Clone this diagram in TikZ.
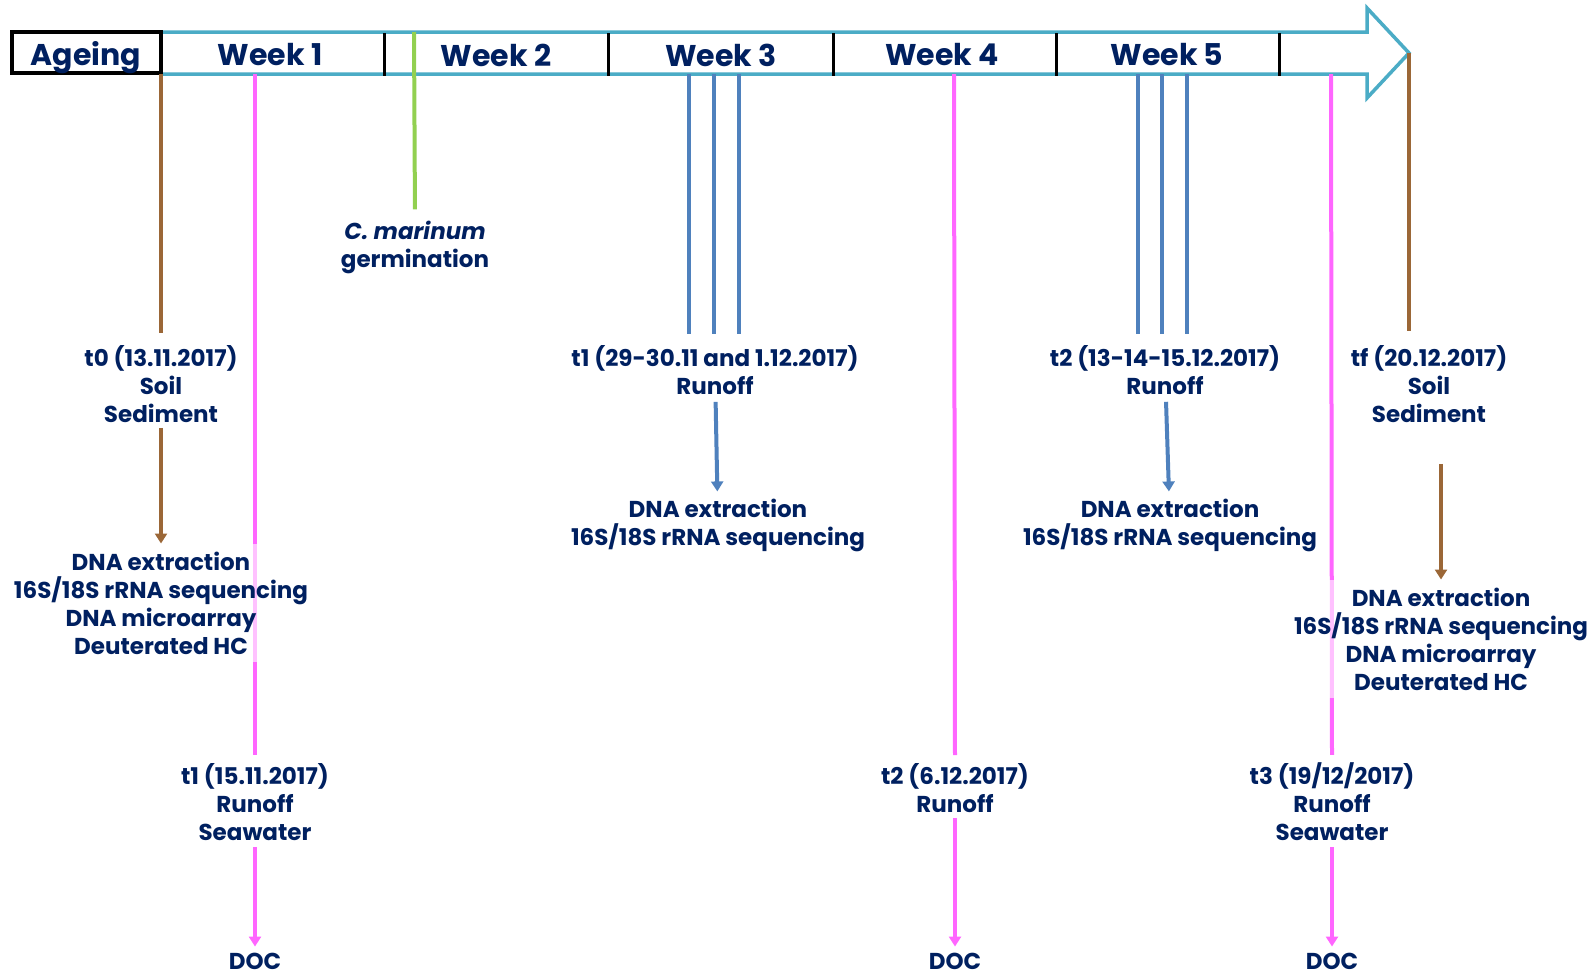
\documentclass[tikz,border=0pt]{standalone}
\usepackage{fontspec}
\setmainfont{Poppins}
\usetikzlibrary{arrows.meta}

\definecolor{navy}{RGB}{0,32,96}
\definecolor{barblue}{RGB}{75,172,198}
\definecolor{runblue}{RGB}{79,129,189}
\definecolor{soilbrown}{RGB}{155,103,55}
\definecolor{docpink}{RGB}{255,102,255}
\definecolor{germgreen}{RGB}{146,208,80}

\begin{document}
\begin{tikzpicture}[%
    x=1pt,
    y=-1pt,
    txt/.style={
      text=navy,
      font=\fontsize{23}{28}\selectfont\bfseries,
      align=center,
      inner sep=0pt
    },
    wk/.style={
      text=navy,
      font=\fontsize{30}{30}\selectfont\bfseries,
      inner sep=0pt
    },
    veil/.style={
      txt,
      fill=white,
      fill opacity=0.6,
      text opacity=1,
      inner ysep=8pt
    },
    divider/.style={
      draw=black,
      line width=3pt
    },
    brownln/.style={draw=soilbrown, line width=4pt},
    pinkln/.style={draw=docpink, line width=4pt},
    blueln/.style={draw=runblue, line width=4pt},
    greenln/.style={draw=germgreen, line width=4pt},
    arr/.style={
      -{Triangle[width=12pt,length=10pt]}
    }
  ]
    \useasboundingbox (0,0) rectangle (1594,975);

    % time bar
    \draw[barblue, line width=3.5pt, fill=white, line join=miter]
      (161,32) -- (1367,32) -- (1367,8) -- (1409,53) -- (1367,98)
      -- (1367,74) -- (161,74);
    \draw (86.5,52.5) node[draw=black, line width=3.5pt, minimum width=149pt,
      minimum height=41pt] (agebox) {};
    \draw (86,58) node[wk] (ageing) {Ageing};
    \foreach \x in {384,608,833,1056,1279}
      \draw[divider] (\x,33) -- (\x,76);
    \draw (270,55) node[wk] (wk1) {Week 1};
    \draw (496,55) node[wk] (wk2) {Week 2};
    \draw (721,55) node[wk] (wk3) {Week 3};
    \draw (942,55) node[wk] (wk4) {Week 4};
    \draw (1167,55) node[wk] (wk5) {Week 5};

    \coordinate (b0) at (161,74);
    \coordinate (g) at (414,32);
    \coordinate (p1) at (255,74);
    \coordinate (p4) at (954,74);
    \coordinate (p5) at (1331,74);
    \coordinate (tip) at (1409,53);

    % samplings
    \draw (415,247) node[txt] (germ) {\textit{C. marinum}\\germination};
    \draw (161,384) node[txt] (t0) {t0 (13.11.2017)\\Soil\\Sediment};
    \draw (255,802) node[txt] (t1w) {t1 (15.11.2017)\\Runoff\\Seawater};
    \draw (255,961) node[txt] (doc1) {DOC};
    \draw (715,370) node[txt] (t1r) {t1 (29-30.11 and 1.12.2017)\\Runoff};
    \draw (718,525) node[txt] (t1dna) {DNA extraction\\16S/18S rRNA sequencing};
    \draw (955,788) node[txt] (t2w) {t2 (6.12.2017)\\Runoff};
    \draw (955,961) node[txt] (doc2) {DOC};
    \draw (1165,370) node[txt] (t2r) {t2 (13-14-15.12.2017)\\Runoff};
    \draw (1170,525) node[txt] (t2dna) {DNA extraction\\16S/18S rRNA sequencing};
    \draw (1332,802) node[txt] (t3w) {t3 (19/12/2017)\\Runoff\\Seawater};
    \draw (1332,961) node[txt] (doc3) {DOC};
    \draw (1429,384) node[txt] (tf) {tf (20.12.2017)\\Soil\\Sediment};

    \draw[greenln, shorten >=11pt] (g) -- (germ.north);
    \draw[brownln, shorten >=12pt] (b0) -- (t0.north);
    \draw[brownln, shorten >=14pt] (tip) -- (tip |- tf.north);
    \draw[pinkln, shorten >=8pt] (p1) -- (t1w.north);
    \draw[pinkln, shorten >=8pt] (p4) -- (t2w.north);
    \draw[pinkln, shorten >=8pt] (p5) -- (t3w.north);
    \foreach \x in {689,714,739}
      \draw[blueln, shorten >=11pt] (\x,74) -- (\x,74 |- t1r.north);
    \foreach \x in {1138,1162,1187}
      \draw[blueln, shorten >=11pt] (\x,74) -- (\x,74 |- t2r.north);

    \draw[pinkln, arr, shorten <=6pt, shorten >=6pt] (t1w) -- (doc1);
    \draw[pinkln, arr, shorten <=5pt, shorten >=6pt] (t2w) -- (doc2);
    \draw[pinkln, arr, shorten <=6pt, shorten >=6pt] (t3w) -- (doc3);
    \draw[blueln, arr, shorten <=7pt, shorten >=7pt] (t1r) -- (t1dna);
    \draw[blueln, arr, shorten <=7pt, shorten >=7pt] (t2r) -- (t2dna);

    % analyses over the pink lines
    \draw (161,603) node[veil] (t0dna)
      {DNA extraction\\16S/18S rRNA sequencing\\DNA microarray\\Deuterated HC};
    \draw (1441,639) node[veil] (tfdna)
      {DNA extraction\\16S/18S rRNA sequencing\\DNA microarray\\Deuterated HC};
    \draw[brownln, arr, shorten <=5pt] (t0) -- (t0dna);
    \draw[brownln, arr, shorten <=41pt] (tfdna.north |- tf.south) -- (tfdna.north);
  \end{tikzpicture}
\end{document}
